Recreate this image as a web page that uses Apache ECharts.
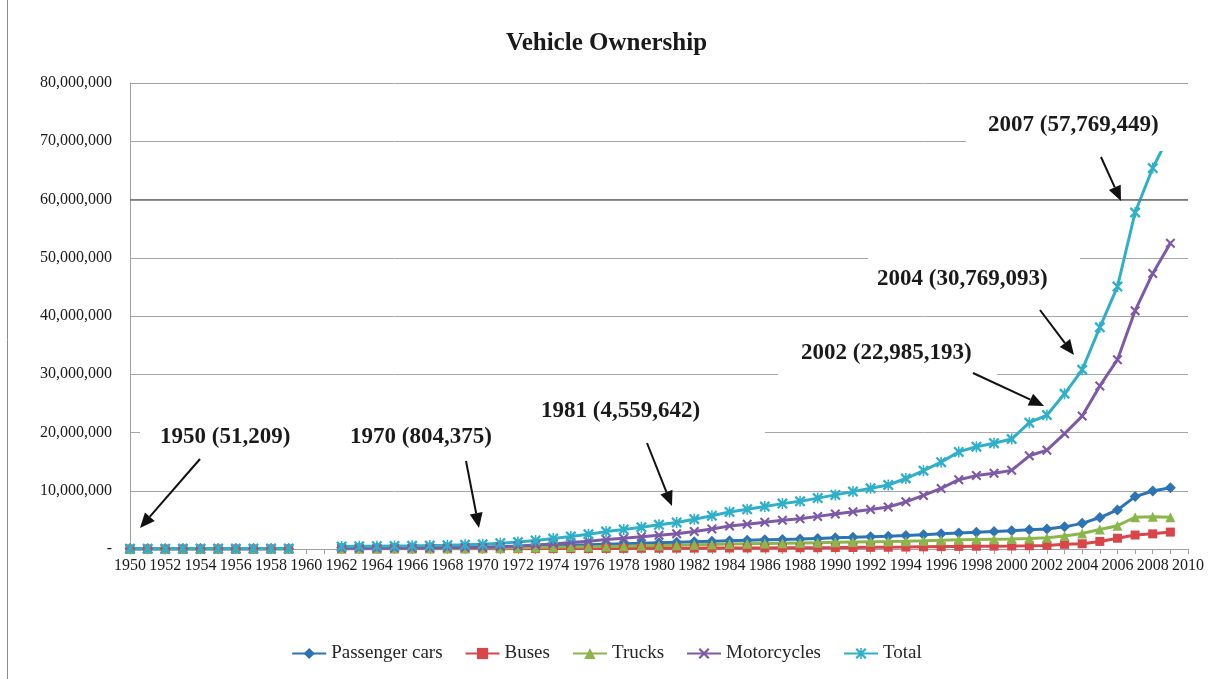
<!DOCTYPE html>
<html>
<head>
<meta charset="utf-8">
<title>Vehicle Ownership</title>
<script src="https://cdn.jsdelivr.net/npm/echarts@6/dist/echarts.min.js"></script>
<style>
  html, body { margin: 0; padding: 0; background: #fff; }
  #myChart { width: 1213px; height: 679px; }
</style>
</head>
<body>
<div id="myChart"></div>
<script>
// years on the category axis, 1960 and 1961 have no data
const years = [];
for (let y = 1950; y <= 2010; y++) years.push(String(y));

const passengerCars = [
  25000, 27000, 29000, 31000, 33000, 35000, 37000, 40000, 43000, 46000,
  null, null,
  200000, 210000, 220000, 230000, 245000, 260000, 280000, 300000,
  330000, 370000, 420000, 480000, 550000, 630000, 710000, 800000, 890000, 980000,
  1070000, 1160000, 1250000, 1330000, 1410000, 1490000, 1570000, 1650000, 1730000, 1820000,
  1910000, 2000000, 2100000, 2200000, 2320000, 2450000, 2600000, 2750000, 2880000, 3000000,
  3150000, 3300000, 3450000, 3800000, 4400000, 5400000, 6700000, 9000000, 9950000, 10500000,
  null
];
const buses = [
  3000, 3000, 4000, 4000, 4000, 5000, 5000, 5000, 6000, 6000,
  null, null,
  20000, 22000, 24000, 26000, 28000, 30000, 33000, 36000,
  40000, 45000, 50000, 58000, 66000, 75000, 85000, 95000, 105000, 115000,
  125000, 140000, 150000, 160000, 170000, 180000, 190000, 200000, 210000, 225000,
  240000, 260000, 280000, 300000, 330000, 370000, 410000, 450000, 470000, 490000,
  510000, 560000, 620000, 800000, 900000, 1300000, 1850000, 2400000, 2600000, 2900000,
  null
];
const trucks = [
  15000, 16000, 17000, 18000, 19000, 20000, 21000, 22000, 23000, 24000,
  null, null,
  95000, 100000, 105000, 110000, 115000, 120000, 128000, 140000,
  160000, 185000, 215000, 250000, 290000, 340000, 390000, 440000, 490000, 540000,
  600000, 660000, 720000, 780000, 840000, 890000, 940000, 990000, 1040000, 1090000,
  1140000, 1190000, 1240000, 1290000, 1350000, 1420000, 1500000, 1570000, 1620000, 1670000,
  1720000, 1820000, 1950000, 2250000, 2650000, 3350000, 4000000, 5450000, 5550000, 5450000,
  null
];
const motorcycles = [
  8209, 9000, 10000, 12000, 14000, 16000, 18000, 20000, 23000, 26000,
  null, null,
  110000, 125000, 140000, 155000, 170000, 190000, 215000, 240000,
  274375, 400000, 520000, 680000, 880000, 1100000, 1350000, 1650000, 1850000, 2100000,
  2350000, 2599642, 3000000, 3450000, 3950000, 4250000, 4600000, 4950000, 5200000, 5600000,
  6000000, 6400000, 6800000, 7200000, 8100000, 9200000, 10400000, 11900000, 12600000, 13000000,
  13500000, 16000000, 16965193, 19800000, 22819093, 28000000, 32500000, 40919449, 47300000, 52500000,
  null
];
const total = [
  51209, 55000, 60000, 65000, 70000, 76000, 81000, 87000, 95000, 102000,
  null, null,
  425000, 457000, 489000, 521000, 558000, 600000, 656000, 716000,
  804375, 1000000, 1205000, 1468000, 1786000, 2145000, 2535000, 2985000, 3335000, 3735000,
  4145000, 4559642, 5120000, 5720000, 6370000, 6810000, 7300000, 7790000, 8180000, 8735000,
  9290000, 9850000, 10420000, 10990000, 12100000, 13440000, 14910000, 16670000, 17570000, 18160000,
  18880000, 21680000, 22985193, 26650000, 30769093, 38050000, 45050000, 57769449, 65400000, 71350000,
  null
];

// callouts: text, left x, middle y, white box, arrow tail -> tip
const callouts = [
  { text: '1950 (51,209)',     x: 160, y: 437, box: [140, 418, 195, 38], arrow: [200, 459, 140, 528] },
  { text: '1970 (804,375)',    x: 350, y: 437, box: [332, 418, 190, 38], arrow: [466, 461, 479, 528] },
  { text: '1981 (4,559,642)',  x: 541, y: 411, box: [520, 392, 245, 42], arrow: [647, 443, 672, 506] },
  { text: '2002 (22,985,193)', x: 801, y: 353, box: [778, 334, 219, 44], arrow: [973, 373, 1044, 406] },
  { text: '2004 (30,769,093)', x: 877, y: 279, box: [868, 252, 212, 50], arrow: [1040, 310, 1074, 355] },
  { text: '2007 (57,769,449)', x: 988, y: 125, box: [966, 100, 226, 51], arrow: [1101, 157, 1121, 201] }
];

const serif = '"Liberation Serif", "Times New Roman", serif';
const xMark = 'path://M0,1.5L1.5,0L10,8.5L8.5,10Z M8.5,0L10,1.5L1.5,10L0,8.5Z';
const starMark = xMark + ' M4.3,0H5.7V10H4.3Z';

function arrowShapes(x1, y1, x2, y2) {
  const a = Math.atan2(y2 - y1, x2 - x1);
  const len = 15, half = 6.5;
  const bx = x2 - len * Math.cos(a);
  const by = y2 - len * Math.sin(a);
  const px = -Math.sin(a) * half;
  const py = Math.cos(a) * half;
  return [
    { type: 'line', z: 101, shape: { x1: x1, y1: y1, x2: bx, y2: by }, style: { stroke: '#111', lineWidth: 2 } },
    { type: 'polygon', z: 101, shape: { points: [[x2, y2], [bx + px, by + py], [bx - px, by - py]] }, style: { fill: '#111' } }
  ];
}

let graphics = [
  { type: 'line', z: 100, shape: { x1: 7.5, y1: 0, x2: 7.5, y2: 679 }, style: { stroke: '#8c8c8c', lineWidth: 1 } }
];
callouts.forEach(c => {
  graphics.push({ type: 'rect', z: 100, shape: { x: c.box[0], y: c.box[1], width: c.box[2], height: c.box[3] }, style: { fill: '#fff' } });
  graphics.push({
    type: 'text', z: 102,
    style: { text: c.text, x: c.x, y: c.y, fill: '#1a1a1a', font: 'bold 23px ' + serif, textAlign: 'left', textVerticalAlign: 'middle', verticalAlign: 'middle' }
  });
  graphics = graphics.concat(arrowShapes(c.arrow[0], c.arrow[1], c.arrow[2], c.arrow[3]));
});

function lineSeries(name, data, color, symbol, size) {
  return {
    name: name,
    type: 'line',
    data: data,
    symbol: symbol,
    symbolSize: size,
    showAllSymbol: true,
    connectNulls: false,
    lineStyle: { color: color, width: 3 },
    itemStyle: { color: color },
    emphasis: { disabled: true }
  };
}

const series = [
  lineSeries('Passenger cars', passengerCars, '#2e74b5', 'diamond', 11),
  lineSeries('Buses', buses, '#d9464a', 'rect', 9),
  lineSeries('Trucks', trucks, '#8bb64b', 'triangle', 10),
  lineSeries('Motorcycles', motorcycles, '#7d5aa6', xMark, 10),
  lineSeries('Total', total, '#2fb0c8', starMark, 11)
];
// the 60,000,000 gridline is drawn darker in the original
series[4].markLine = {
  silent: true,
  symbol: 'none',
  label: { show: false },
  lineStyle: { color: '#6e6e6e', width: 1.5, type: 'solid' },
  data: [{ yAxis: 60000000 }]
};

const myChart = echarts.init(document.getElementById('myChart'));
myChart.setOption({
  animation: false,
  backgroundColor: '#fff',
  title: {
    text: 'Vehicle Ownership',
    left: 'center',
    top: 26,
    textStyle: { fontFamily: serif, fontSize: 25, fontWeight: 'bold', color: '#1a1a1a' }
  },
  legend: {
    data: ['Passenger cars', 'Buses', 'Trucks', 'Motorcycles', 'Total'],
    left: 'center',
    top: 639,
    itemWidth: 34,
    itemHeight: 14,
    itemGap: 22,
    textStyle: { fontFamily: serif, fontSize: 19, color: '#262626' }
  },
  grid: { left: 130, right: 25, top: 83, bottom: 130 },
  xAxis: {
    type: 'category',
    data: years,
    boundaryGap: false,
    axisLine: { lineStyle: { color: '#a0a0a0', width: 1 } },
    axisTick: { show: true, interval: 0, length: 5, lineStyle: { color: '#a0a0a0' } },
    axisLabel: { interval: 1, margin: 9, fontFamily: serif, fontSize: 16, color: '#1a1a1a' },
    splitLine: { show: false }
  },
  yAxis: {
    type: 'value',
    min: 0,
    max: 80000000,
    interval: 10000000,
    axisLine: { show: true, lineStyle: { color: '#a0a0a0' } },
    axisTick: { show: false },
    axisLabel: {
      margin: 18,
      fontFamily: serif,
      fontSize: 16,
      color: '#1a1a1a',
      formatter: v => (v === 0 ? '-' : v.toLocaleString('en-US'))
    },
    splitLine: { show: true, lineStyle: { color: '#a6a6a6', width: 1 } }
  },
  series: series,
  graphic: graphics
});
</script>
</body>
</html>
